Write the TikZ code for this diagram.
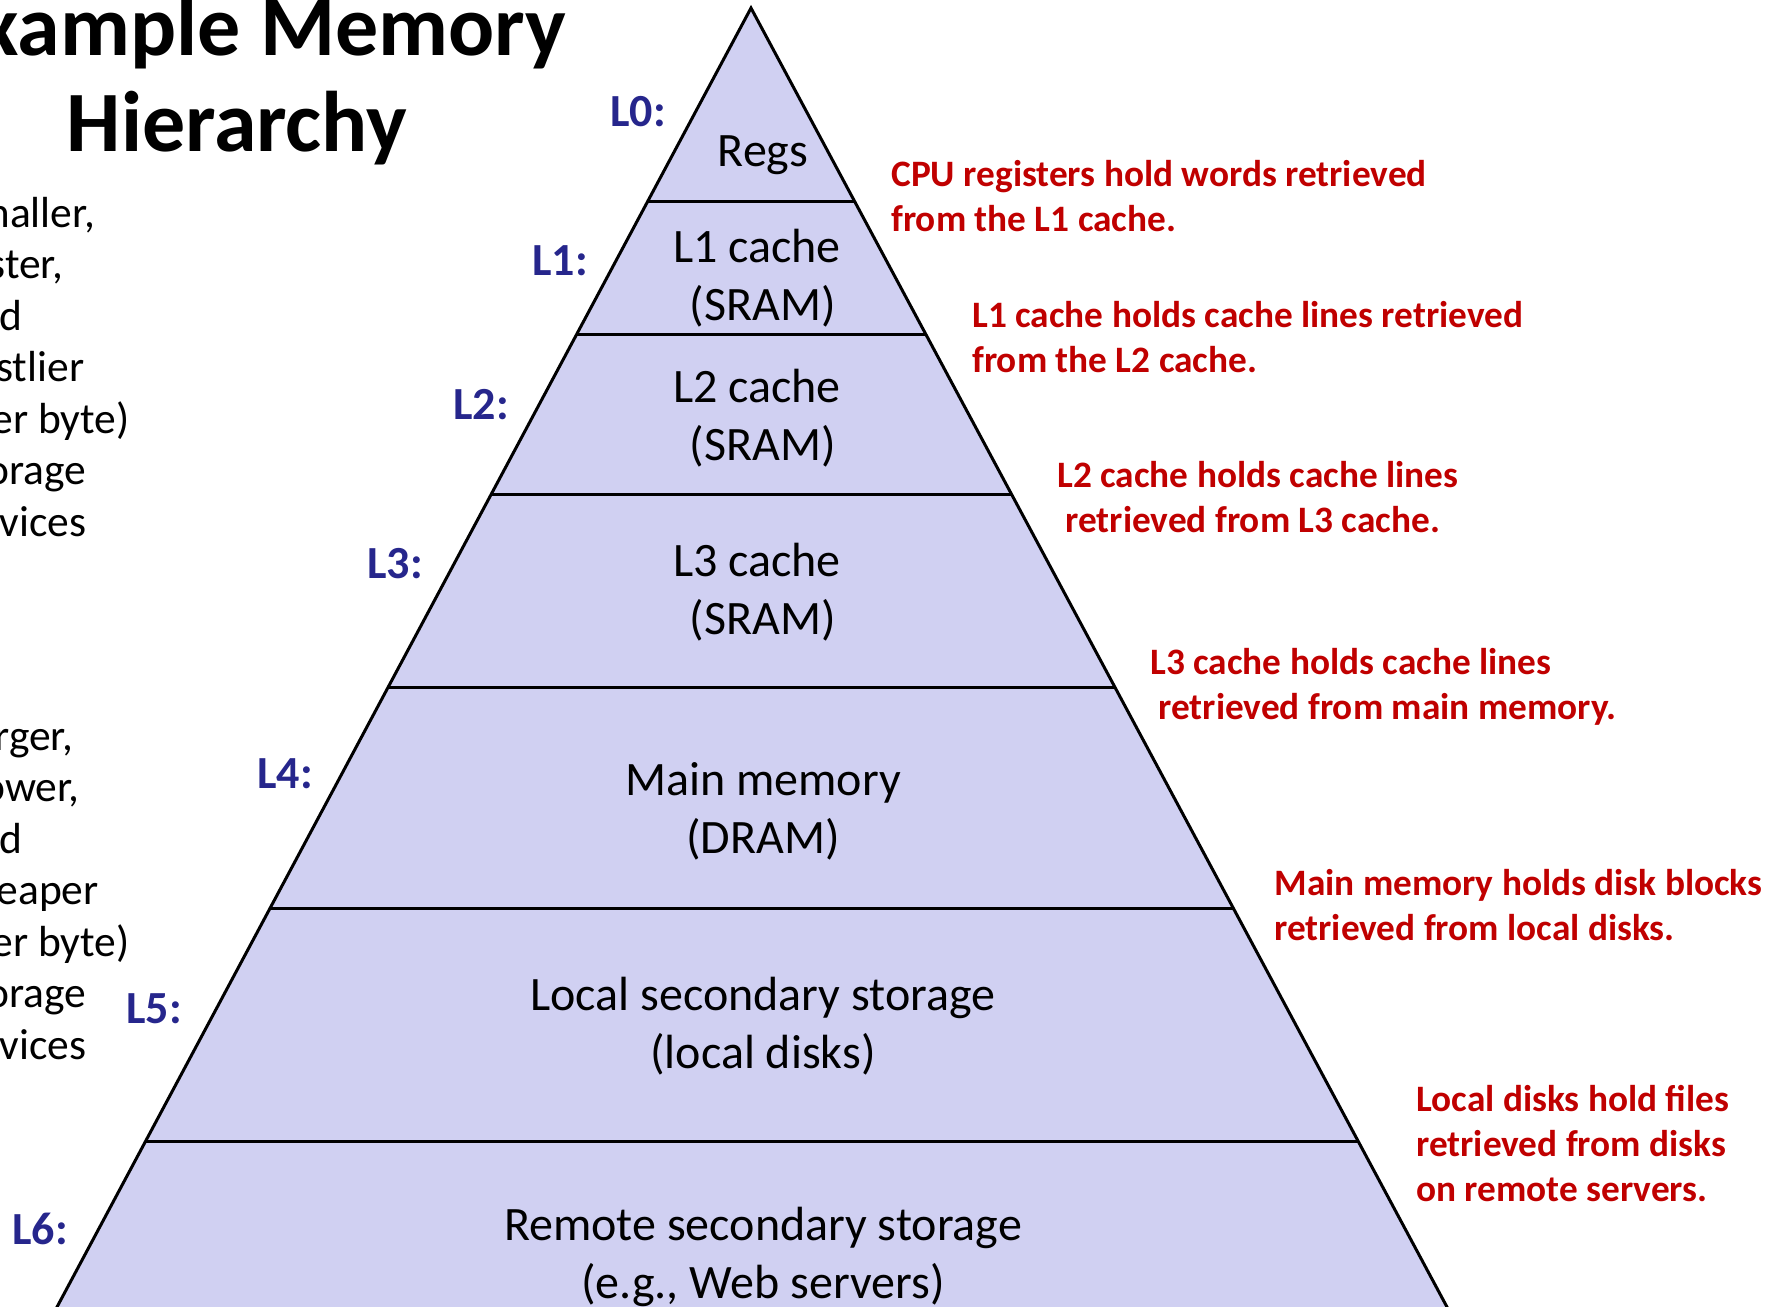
\documentclass[tikz,border=0pt]{standalone}
\usepackage{fontspec}
\setmainfont{Carlito}
\usetikzlibrary{calc}
\definecolor{pyrfill}{RGB}{208,208,242}
\definecolor{lvlblue}{RGB}{38,38,140}
\definecolor{notered}{RGB}{192,0,0}
\begin{document}
\begin{tikzpicture}[x=0.5pt,y=-0.5pt,
  layer/.style={font=\fontsize{24}{29}\selectfont, align=center, inner sep=0pt},
  lvl/.style={font=\fontsize{23}{28}\selectfont\bfseries, text=lvlblue, inner sep=0pt},
  note/.style={font=\fontsize{18.65}{22.5}\selectfont\bfseries, text=notered, align=left, anchor=west, inner sep=0pt},
  side/.style={font=\fontsize{21.75}{25.75}\selectfont, align=left, anchor=west, inner sep=0pt},
  ttl/.style={font=\fontsize{43}{51.5}\selectfont\bfseries, inner sep=0pt},
  sep/.style={line width=1.5pt, line cap=butt}
]
\useasboundingbox (0,0) rectangle (1779,1307);
\clip (0,0) rectangle (1779,1307);
\coordinate (apex) at (751,8);
\coordinate (bl) at (57,1307);
\coordinate (br) at (1447,1307);
\fill[pyrfill] (apex) -- ($(apex)!1.02!(bl)$) -- ($(apex)!1.02!(br)$) -- cycle;
\foreach \Y in {201,335,494,688,908,1141} {
  \pgfmathsetmacro\t{(\Y-8)/1299}
  \draw[sep] ($(apex)!\t!(bl)$) -- ($(apex)!\t!(br)$);
}
\draw[sep] ($(apex)!1.02!(bl)$) -- (apex) -- ($(apex)!1.02!(br)$);

\node[layer] (regs) at (763,155) {Regs};
\node[layer] (l1) at (763,278) {L1 cache\hspace*{0.25em}\\(SRAM)};
\node[layer] (l2) at (763,418) {L2 cache\hspace*{0.25em}\\(SRAM)};
\node[layer] (l3) at (763,592) {L3 cache\hspace*{0.25em}\\(SRAM)};
\node[layer] (l4) at (763,811) {Main memory\\(DRAM)};
\node[layer] (l5) at (763,1026) {Local secondary storage\\(local disks)};
\node[layer] (l6) at (763,1257) {Remote secondary storage\\(e.g., Web servers)};

\node[lvl] (L0) at (638,112) {L0:};
\node[lvl] (L1) at (560,261) {L1:};
\node[lvl] (L2) at (481,405) {L2:};
\node[lvl] (L3) at (395,564) {L3:};
\node[lvl] (L4) at (285,774) {L4:};
\node[lvl] (L5) at (154,1009) {L5:};
\node[lvl] (L6) at (40,1229) {L6:};

\node[note] (n0) at (891,196) {CPU registers hold words retrieved\\from the L1 cache.};
\node[note] (n1) at (972,337) {L1 cache holds cache lines retrieved\\from the L2 cache.};
\node[note] (n2) at (1057,497) {L2 cache holds cache lines\\\hspace*{0.22em}retrieved from L3 cache.};
\node[note] (n3) at (1150,687) {L3 cache holds cache lines\\\hspace*{0.22em}retrieved from main memory.};
\node[note] (n4) at (1274,905) {Main memory holds disk blocks\\retrieved from local disks.};
\node[note] (n5) at (1416,1144) {Local disks hold files\\retrieved from disks\\on remote servers.};

\node[side] (faster) at (-45,367) {Smaller,\\faster,\\and\\costlier\\(per byte)\\storage\\devices};
\node[side] (slower) at (-45,891) {Larger,\\slower,\\and\\cheaper\\(per byte)\\storage\\devices};

\node[ttl, anchor=base east] (t1) at (567,55) {Example Memory};
\node[ttl, anchor=base] (t2) at (237,151) {Hierarchy};
\end{tikzpicture}
\end{document}
